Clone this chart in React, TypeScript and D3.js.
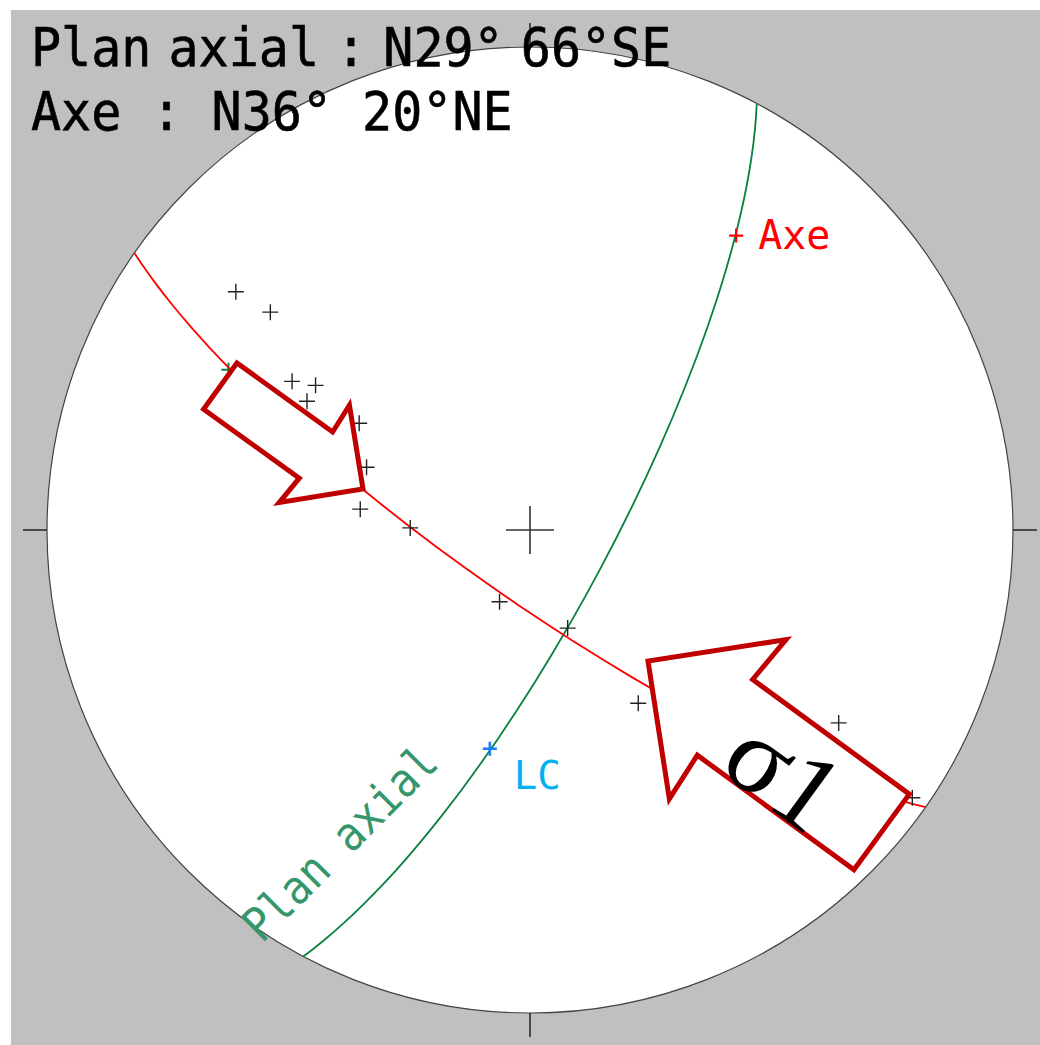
import React from "react";
import * as d3 from "d3";

const WIDTH = 1040;
const HEIGHT = 1045;

// Header lines
const titleLines = ["Plan axial : N29° 66°SE", "Axe : N36° 20°NE"];
const titleWordSpacing = [-13, 0];

// Poles to bedding (lower hemisphere): trend and plunge in degrees
const poleTrend = [309, 310, 302, 304, 300, 302, 291, 277, 271, 203, 159, 148, 122, 125];
const polePlunge = [22.7, 30.5, 41.5, 45.5, 45.7, 55.7, 60.3, 61.0, 69.8, 76.9, 72.3, 55.2, 25.6, 3.8];

// Great circles: strike (right-hand rule) and dip in degrees
const planeNames = ["Plan axial", "Guirlande"];
const planeStrike = [28, 125];
const planeDip = [76.5, 78.5];
const planeColors = ["#08803f", "#ff0000"];

// Individual lines: fold axis, LC, pole of the axial plane
const lineNames = ["Axe", "LC", "Pole"];
const lineTrend = [35, 190.4, 298];
const linePlunge = [26.5, 52, 30];
const lineColors = ["#ff0000", "#1a7cff", "#08803f"];

// Net geometry
const CX = 530;
const CY = 530;
const R = 483;

const projection = d3
  .geoAzimuthalEqualArea()
  .rotate([0, 0])
  .scale(R / Math.SQRT2)
  .translate([CX, CY])
  .precision(0.1);
const geoPath = d3.geoPath(projection);

const DEG = Math.PI / 180;

// Lower-hemisphere line (trend, plunge) -> [lon, lat] with nadir at the map centre
function toLonLat(trend: number, plunge: number): [number, number] {
  const t = trend * DEG;
  const p = plunge * DEG;
  const e = Math.cos(p) * Math.sin(t);
  const n = Math.cos(p) * Math.cos(t);
  const d = Math.sin(p);
  return [Math.atan2(e, d) / DEG, Math.asin(Math.max(-1, Math.min(1, n))) / DEG];
}

function proj(trend: number, plunge: number): [number, number] {
  return projection(toLonLat(trend, plunge)) as [number, number];
}

function planeD(strike: number, dip: number): string {
  const feature = {
    type: "LineString",
    coordinates: [toLonLat(strike, 0), toLonLat(strike + 90, dip), toLonLat(strike + 180, 0)],
  };
  return geoPath(feature as any) || "";
}

function crossD(x: number, y: number, s: number): string {
  return `M${x - s},${y}H${x + s}M${x},${y - s}V${y + s}`;
}

// Block arrow outline: tip position, pointing angle (deg) and size factor
function arrowPoints(tipX: number, tipY: number, angle: number, k: number): string {
  const L = 176 * k;
  const hl = 60 * k;
  const hw = 120 * k;
  const sw = 57 * k;
  const local: [number, number][] = [
    [0, 0],
    [-hl, -hw / 2],
    [-hl + 2 * k, -sw / 2],
    [-L, -sw / 2],
    [-L, sw / 2],
    [-hl + 2 * k, sw / 2],
    [-hl, hw / 2],
  ];
  const a = angle * DEG;
  const c = Math.cos(a);
  const s = Math.sin(a);
  return local.map(([x, y]) => `${tipX + x * c - y * s},${tipY + x * s + y * c}`).join(" ");
}

const arrowTip = [
  [363, 489],
  [648, 661],
];
const arrowAngle = [35.8, 216.2];
const arrowScale = [1, 1.645];

export default function App() {
  const ticks = [0, 90, 180, 270].map((t) => {
    const [x, y] = proj(t, 0);
    const ux = (x - CX) / R;
    const uy = (y - CY) / R;
    return { x1: x, y1: y, x2: x + ux * 24, y2: y + uy * 24 };
  });

  const poles = poleTrend.map((t, i) => proj(t, polePlunge[i]));
  const lines = lineTrend.map((t, i) => proj(t, linePlunge[i]));

  const mono = "'DejaVu Sans Mono', monospace";

  return (
    <svg
      width={WIDTH}
      height={HEIGHT}
      viewBox={`0 0 ${WIDTH} ${HEIGHT}`}
      style={{ position: "absolute", left: 0, top: 0, display: "block" }}
    >
      <rect x={0} y={0} width={WIDTH} height={HEIGHT} fill="#ffffff" />
      <rect x={11} y={10} width={WIDTH - 11} height={HEIGHT - 10} fill="#c0c0c0" />
      <circle cx={CX} cy={CY} r={R} fill="#ffffff" stroke="#444" strokeWidth={1.2} />
      {ticks.map((t, i) => (
        <line key={i} x1={t.x1} y1={t.y1} x2={t.x2} y2={t.y2} stroke="#222" strokeWidth={1.5} />
      ))}

      {/* pole of the axial plane, mostly hidden under the arrow */}
      <path d={crossD(lines[2][0], lines[2][1], 7)} stroke={lineColors[2]} strokeWidth={2} fill="none" />

      {planeStrike.map((s, i) => (
        <path
          key={planeNames[i]}
          d={planeD(s, planeDip[i])}
          fill="none"
          stroke={planeColors[i]}
          strokeWidth={1.8}
        />
      ))}

      {poles.map(([x, y], i) => (
        <path key={i} d={crossD(x, y, 8)} stroke="#222" strokeWidth={1.4} fill="none" />
      ))}

      {/* centre of the net */}
      <path d={crossD(CX, CY, 24)} stroke="#333" strokeWidth={1.6} fill="none" />

      {/* fold axis */}
      <path d={crossD(lines[0][0], lines[0][1], 7)} stroke={lineColors[0]} strokeWidth={2.2} fill="none" />
      <text x={lines[0][0] + 22} y={lines[0][1] + 13} fill="#ff0000" fontFamily={mono} fontSize={40}>
        Axe
      </text>

      {/* LC */}
      <path d={crossD(lines[1][0], lines[1][1], 7)} stroke={lineColors[1]} strokeWidth={2.6} fill="none" />
      <text x={lines[1][0] + 24} y={lines[1][1] + 40} fill="#00b0f0" fontFamily={mono} fontSize={39}>
        LC
      </text>

      <text
        transform="translate(262,944) rotate(-45) scale(1,1.12)"
        fill="#35966b"
        fontFamily={mono}
        fontSize={42}
      >
        Plan axial
      </text>

      {arrowTip.map(([x, y], i) => (
        <polygon
          key={i}
          points={arrowPoints(x, y, arrowAngle[i], arrowScale[i])}
          fill="#ffffff"
          stroke="#c00000"
          strokeWidth={5}
          strokeLinejoin="miter"
        />
      ))}
      <text
        transform="translate(785,772) rotate(36)"
        textAnchor="middle"
        dy="0.35em"
        fontFamily="'Liberation Serif', 'Times New Roman', serif"
        fontSize={110}
        fill="#000"
      >
        σ1
      </text>

      {titleLines.map((t, i) => (
        <text
          key={i}
          transform={`translate(31,${66 + i * 64}) scale(1,1.06)`}
          fontFamily={mono}
          fontSize={50}
          fill="#000"
          stroke="#000"
          strokeWidth={0.6}
          wordSpacing={titleWordSpacing[i]}
        >
          {t}
        </text>
      ))}
    </svg>
  );
}
